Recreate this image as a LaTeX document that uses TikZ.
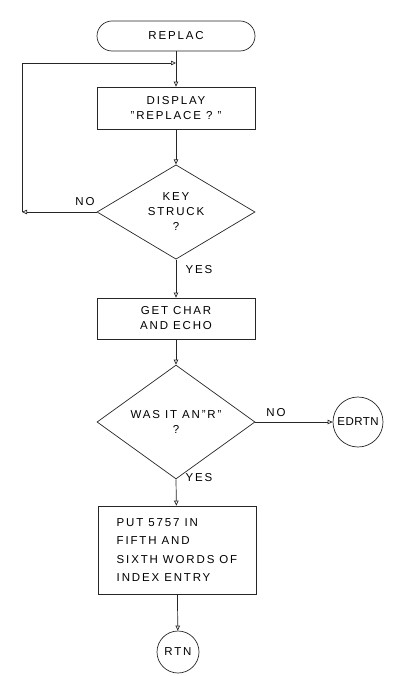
\documentclass[tikz,border=0pt]{standalone}
\usepackage{fontspec}
\setmainfont{Liberation Sans}[LetterSpace=16]
\usetikzlibrary{shapes.geometric,arrows.meta}
\begin{document}
\begin{tikzpicture}[x=1pt,y=-1pt,
  every node/.style={font=\fontsize{11.5}{15}\selectfont},
  line/.style={draw=black!85,line width=0.7pt},
  arr/.style={line,-{Triangle[open,length=5pt,width=4.5pt]}},
  term/.style={line,rectangle,rounded corners=15pt,minimum width=158pt,minimum height=30pt,inner sep=0pt},
  proc/.style={line,rectangle,minimum width=158pt,align=center,inner sep=0pt},
  dec/.style={line,diamond,minimum width=158pt,minimum height=88pt,inner sep=0pt,align=center},
  conn/.style={line,circle,inner sep=0pt},
  lbl/.style={inner sep=1pt}]
\useasboundingbox (0,0) rectangle (392,676);
\node[term] (replac) at (176,36) {REPLAC};
\node[proc,minimum height=42pt] (disp) at (176,108) {DISPLAY\\"REPLACE ? "};
\node[dec] (key) at (176,212) {KEY\\STRUCK\\?};
\node[proc,minimum height=41pt] (getc) at (176,318.5) {GET CHAR\\AND ECHO};
\node[dec] (was) at (176,422) {WAS IT AN"R"\\?};
\node[conn,minimum size=50pt] (edrtn) at (358,422) {\addfontfeature{LetterSpace=4}EDRTN};
\node[proc,minimum height=88pt,align=left,font=\fontsize{11.5}{18.5}\selectfont] (put) at (177,550) {PUT 5757 IN\\FIFTH AND\\SIXTH WORDS OF\\INDEX ENTRY};
\node[conn,minimum size=42pt] (rtn) at (178,652) {RTN};
\coordinate (join) at (176,63);
\coordinate (lb) at (22,212);
\coordinate (lt) at (22,63);
\node[lbl] (no1) at (85,202) {NO};
\node[lbl] (yes1) at (199,270) {YES};
\node[lbl] (no2) at (276,413) {NO};
\node[lbl] (yes2) at (199,478) {YES};
\draw[arr] (replac) -- (disp);
\draw[arr] (key.west) -- (lb);
\draw[arr] (lb) -- (lt) -- (join);
\draw[arr] (disp) -- (key);
\draw[arr] (key.south) -- (getc);
\draw[arr] (getc) -- (was);
\draw[arr] (was.east) -- (edrtn);
\draw[arr] (was.south) -- (put);
\draw[arr] (put) -- (rtn);
\end{tikzpicture}
\end{document}
